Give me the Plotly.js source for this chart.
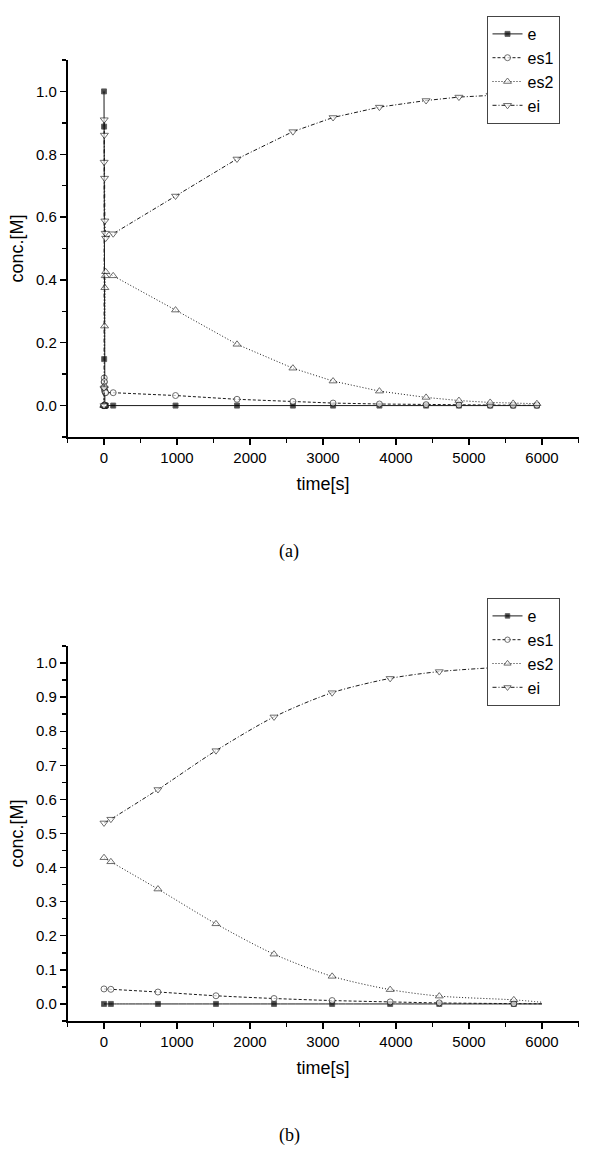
<!DOCTYPE html>
<html>
<head>
<meta charset="utf-8">
<script src="https://cdn.plot.ly/plotly-3.0.1.min.js"></script>
<style>
  html, body { margin: 0; padding: 0; background: #fff; }
  #chart { width: 600px; height: 1166px; }
</style>
</head>
<body>
<div id="chart"></div>
<script>
// ---------- data: panel (a) ----------
const timeA = [0, 1, 2, 3, 5, 8, 12, 17, 23, 126, 980, 1822, 2588, 3138, 3773, 4412, 4862, 5290, 5605, 5930];
const eA    = [1.0, 0.888, 0.148, 0.0, 0.0, 0.0, 0.0, 0.0, 0.0, 0, 0, 0, 0, 0, 0, 0, 0, 0, 0, 0];
const es1A  = [0.0, 0.056, 0.075, 0.088, 0.076, 0.05, 0.045, 0.042, 0.041, 0.041, 0.032, 0.020, 0.013, 0.008, 0.005, 0.003, 0.002, 0.0015, 0.001, 0.001];
const es2A  = [0.0, 0.0, 0.002, 0.002, 0.063, 0.253, 0.375, 0.413, 0.426, 0.413, 0.304, 0.195, 0.119, 0.078, 0.046, 0.026, 0.016, 0.010, 0.007, 0.006];
const eiA   = [0.0, 0.056, 0.775, 0.91, 0.861, 0.724, 0.588, 0.549, 0.533, 0.547, 0.667, 0.785, 0.872, 0.917, 0.950, 0.971, 0.982, 0.988, 0.991, 0.993];

// ---------- data: panel (b) ----------
const timeB = [0, 94, 739, 1534, 2329, 3125, 3920, 4593, 5614, 6000];
const eB    = [0, 0, 0, 0, 0, 0, 0, 0, 0, 0];
const es1B  = [0.044, 0.043, 0.035, 0.024, 0.016, 0.010, 0.006, 0.003, 0.001, 0.0005];
const es2B  = [0.429, 0.417, 0.337, 0.235, 0.146, 0.081, 0.042, 0.023, 0.012, 0.005];
const eiB   = [0.531, 0.542, 0.629, 0.743, 0.842, 0.913, 0.955, 0.975, 0.990, 0.994];

const seriesNames = ['e', 'es1', 'es2', 'ei'];
const captions = ['(a)', '(b)'];
const xTitle = 'time[s]';
const yTitle = 'conc.[M]';

// ---------- styles ----------
const W = 600, H = 1166;
const FONT = 'Liberation Sans, Arial, sans-serif';
const styles = {
  e:   {dash: 'solid',            symbol: 'square',        fill: '#000', size: 5},
  es1: {dash: '3px,2px',          symbol: 'circle',        fill: '#fff', size: 6},
  es2: {dash: '1px,2px',          symbol: 'triangle-up',   fill: '#fff', size: 7},
  ei:  {dash: '4px,2px,1px,2px',  symbol: 'triangle-down', fill: '#fff', size: 7}
};

function makeTraces(t, vals, xa, ya, legendId, shape, hideLast) {
  return seriesNames.map((name, k) => {
    const s = styles[name];
    const sizes = t.map((_, i) => (hideLast && i === t.length - 1) ? 0 : s.size);
    return {
      x: t, y: vals[k], name: name, type: 'scatter', mode: 'lines+markers',
      xaxis: xa, yaxis: ya, legend: legendId,
      line: {color: '#1a1a1a', width: 1, dash: s.dash, shape: shape, smoothing: 0.8},
      marker: {symbol: s.symbol, size: sizes, color: s.fill, line: {color: '#1a1a1a', width: 0.9}}
    };
  });
}

const traces = [].concat(
  makeTraces(timeA, [eA, es1A, es2A, eiA], 'x', 'y', 'legend', 'linear', false),
  makeTraces(timeB, [eB, es1B, es2B, eiB], 'x2', 'y2', 'legend2', 'spline', true)
);

const xDom = [67.5 / W, 578.5 / W];
const topDom = [1 - 437 / H, 1 - 60 / H];
const botDom = [1 - 1021 / H, 1 - 646 / H];

function xAxis(anchor) {
  return {
    domain: xDom, anchor: anchor, range: [-500, 6500],
    tick0: 0, dtick: 1000, ticks: 'outside', ticklen: 6, tickwidth: 1.4, tickcolor: '#000',
    minor: {dtick: 500, tick0: 0, ticks: 'outside', ticklen: 4, tickwidth: 1.4, tickcolor: '#000'},
    showline: true, linecolor: '#000', linewidth: 1.6, showgrid: false, zeroline: false,
    tickfont: {family: FONT, size: 15, color: '#000'},
    title: {text: xTitle, font: {family: FONT, size: 18, color: '#000'}, standoff: 13}
  };
}
function yAxis(anchor, dom, range, dtick, minorDtick) {
  return {
    domain: dom, anchor: anchor, range: range,
    tick0: 0, dtick: dtick, tickformat: '.1f', ticks: 'outside', ticklen: 6, tickwidth: 1.4, tickcolor: '#000',
    minor: {dtick: minorDtick, tick0: 0, ticks: 'outside', ticklen: 4, tickwidth: 1.4, tickcolor: '#000'},
    showline: true, linecolor: '#000', linewidth: 1.6, showgrid: false, zeroline: false,
    tickfont: {family: FONT, size: 15, color: '#000'},
    title: {text: yTitle, font: {family: FONT, size: 18, color: '#000'}, standoff: 8}
  };
}

function legendBox(topPx) {
  return {
    x: 486.5 / W, y: 1 - topPx / H, xanchor: 'left', yanchor: 'top',
    bgcolor: '#fff', bordercolor: '#444', borderwidth: 1,
    font: {family: FONT, size: 16, color: '#000'},
    tracegroupgap: 0, itemwidth: 30
  };
}

const layout = {
  width: W, height: H,
  margin: {l: 0, r: 0, t: 0, b: 0},
  paper_bgcolor: '#fff', plot_bgcolor: '#fff',
  showlegend: true,
  xaxis: xAxis('y'),
  yaxis: yAxis('x', topDom, [-0.1, 1.1], 0.2, 0.1),
  xaxis2: xAxis('y2'),
  yaxis2: yAxis('x2', botDom, [-0.05, 1.05], 0.1, 0.05),
  legend: legendBox(16),
  legend2: legendBox(598),
  annotations: [
    {text: captions[0], xref: 'paper', yref: 'paper', x: 289 / W, y: 1 - 551 / H,
     xanchor: 'center', yanchor: 'middle', showarrow: false,
     font: {family: 'Liberation Serif, Times New Roman, serif', size: 18, color: '#000'}},
    {text: captions[1], xref: 'paper', yref: 'paper', x: 289 / W, y: 1 - 1135 / H,
     xanchor: 'center', yanchor: 'middle', showarrow: false,
     font: {family: 'Liberation Serif, Times New Roman, serif', size: 18, color: '#000'}}
  ]
};

Plotly.newPlot('chart', traces, layout, {staticPlot: true, displayModeBar: false});
</script>
</body>
</html>
